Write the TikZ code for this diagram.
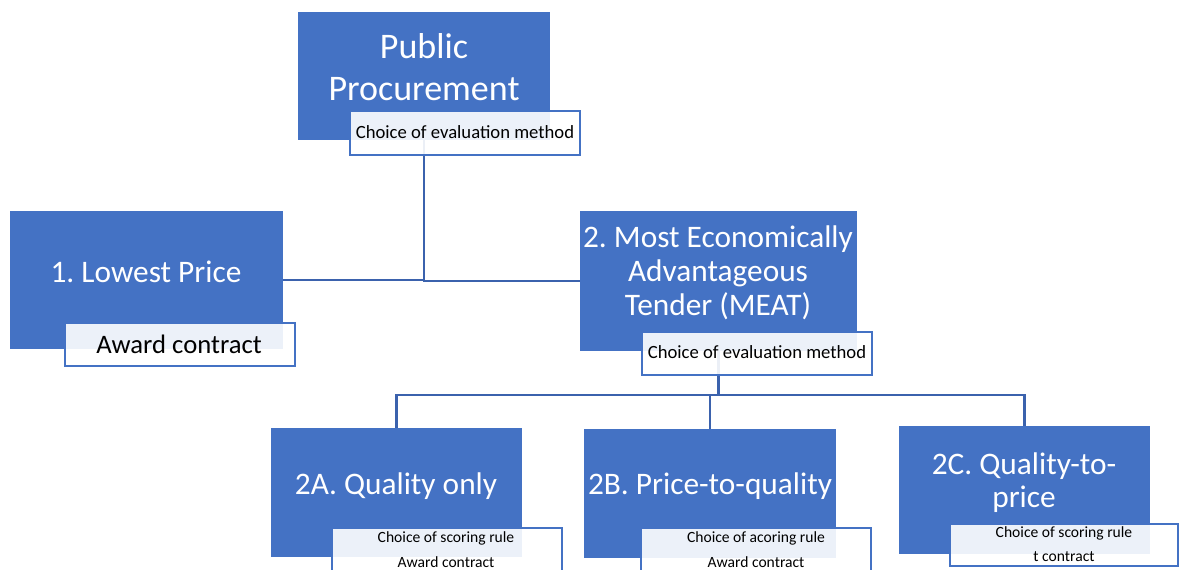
\documentclass[tikz,border=0pt]{standalone}
\usepackage{fontspec}
\setmainfont{Carlito}
\frenchspacing
\usetikzlibrary{positioning}
\definecolor{accent}{HTML}{4472C4}
\definecolor{linkblue}{HTML}{3B62AD}
\tikzset{
  bigbox/.style={fill=accent, draw=none, inner sep=0pt},
  subbox/.style={draw=accent, line width=1.5pt, fill=white, fill opacity=0.9, inner sep=0pt},
  bigtext/.style={text=white, align=center, inner sep=0pt, font=\fontsize{23.5}{25.5}\selectfont},
  subtext/.style={text=black, align=center, inner sep=0pt},
  link/.style={draw=linkblue, line width=1.6pt},
}
\begin{document}
\begin{tikzpicture}[x=0.75pt, y=-0.75pt]
\useasboundingbox (0,0) rectangle (1181,570);
\clip (0,0) rectangle (1181,570);

% main boxes
\node[bigbox, minimum width=189pt, minimum height=96pt] (pp) at (424,76) {};
\node[bigbox, minimum width=204.75pt, minimum height=103.5pt] (lp) at (146.5,280) {};
\node[bigbox, minimum width=207.75pt, minimum height=105pt] (meat) at (718.5,281) {};
\node[bigbox, minimum width=188.25pt, minimum height=96.75pt] (qa) at (396.5,492.5) {};
\node[bigbox, minimum width=189pt, minimum height=96.75pt] (pq) at (710,493.5) {};
\node[bigbox, minimum width=188.25pt, minimum height=96pt] (qp) at (1024.5,490) {};

% connectors
\coordinate (mb) at (718.5,395);
\draw[link] (pp.south) |- (lp.east);
\draw[link] (pp.south) |- (meat.west);
\draw[link] (meat.south) -- (mb) -| (qa.north);
\draw[link] (mb) -| (pq.north);
\draw[link] (mb) -| (qp.north);

% titles
\node[bigtext, font=\fontsize{27}{31.5}\selectfont] (pp-t) at (424,67) {Public\\Procurement};
\node[bigtext] (lp-t) at (146,272) {1. Lowest Price};
\node[bigtext] (meat-t) at (718,273) {2. Most Economically\\Advantageous\\Tender (MEAT)};
\node[bigtext] (qa-t) at (396,486) {2A. Quality only};
\node[bigtext] (pq-t) at (710,486) {2B. Price-to-quality};
\node[bigtext, font=\fontsize{23.5}{24.75}\selectfont] (qp-t) at (1024,482.5) {2C. Quality-to-\\price};

% detail boxes
\node[subbox, minimum width=172.5pt, minimum height=33pt] (pps) at (465,133) {};
\node[subbox, minimum width=172.5pt, minimum height=32.25pt] (lps) at (180,344.5) {};
\node[subbox, minimum width=172.5pt, minimum height=32.25pt] (meats) at (757,353.5) {};
\node[subbox, minimum width=172.5pt, minimum height=32.25pt] (qas) at (447,549.5) {};
\node[subbox, minimum width=172.5pt, minimum height=32.25pt] (pqs) at (756,549.5) {};
\node[subbox, minimum width=171pt, minimum height=31.5pt] (qps) at (1064,545) {};

\node[subtext, font=\fontsize{14}{16}\selectfont] (pps-t) at (465,132) {Choice of evaluation method};
\node[subtext, font=\fontsize{20}{22}\selectfont] (lps-t) at (179,344) {Award contract};
\node[subtext, font=\fontsize{14}{16}\selectfont] (meats-t) at (757,352) {Choice of evaluation method};
\node[subtext, font=\fontsize{11.7}{18.75}\selectfont] (qas-t) at (446,549.5) {Choice of scoring rule\\Award contract};
\node[subtext, font=\fontsize{11.7}{18.75}\selectfont] (pqs-t) at (756,549.5) {Choice of acoring rule\\Award contract};
\node[subtext, font=\fontsize{11.7}{18}\selectfont] (qps-t) at (1064,544) {Choice of scoring rule\\t contract};
\end{tikzpicture}
\end{document}
